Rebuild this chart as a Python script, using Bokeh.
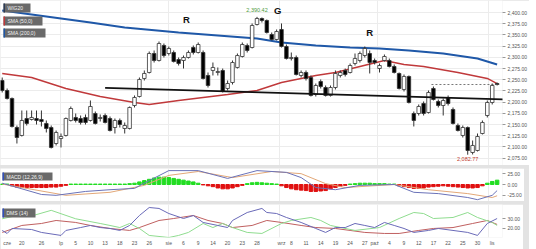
import numpy as np
from bokeh.plotting import figure
from bokeh.layouts import column
from bokeh.models import (Range1d, FixedTicker, NumeralTickFormatter, Label,
                          BoxAnnotation, ColumnDataSource)
from bokeh.embed import file_html
from bokeh.resources import INLINE

# ---------------- data ----------------
opens = [2248.4, 2226.1, 2208.3, 2143.5, 2125.7, 2163.6, 2161.4, 2163.6, 2161.4, 2152.5,
         2143.5, 2107.8, 2119.0, 2125.7, 2159.2, 2165.9, 2163.6, 2165.9, 2159.2, 2174.8,
         2163.6, 2170.3, 2163.6, 2143.5, 2159.2, 2141.3, 2141.3, 2192.6, 2212.7, 2252.9,
         2266.3, 2308.7, 2293.1, 2326.6, 2308.7, 2310.9, 2295.3, 2293.1, 2299.8, 2322.1,
         2310.9, 2310.9, 2259.6, 2270.8, 2266.3, 2270.8, 2230.6, 2244.0, 2277.5, 2302.0,
         2326.6, 2322.1, 2373.4, 2386.8, 2382.4, 2351.1, 2340.0, 2362.3, 2324.3, 2297.5,
         2299.8, 2259.6, 2266.3, 2255.1, 2217.2, 2246.2, 2232.8, 2215.0, 2232.8, 2259.6,
         2270.8, 2266.3, 2286.4, 2293.1, 2304.2, 2308.7, 2293.1, 2275.2, 2293.1, 2293.1,
         2279.7, 2264.1, 2228.4, 2257.4, 2174.8, 2174.8, 2197.1, 2177.0, 2230.6, 2201.6,
         2192.6, 2210.5, 2183.7, 2148.0, 2125.7, 2143.5, 2087.7, 2092.2, 2130.1, 2170.3,
         2199.3, 2241.7]
highs = [2255.1, 2230.6, 2210.5, 2148.0, 2181.5, 2181.5, 2181.5, 2181.5, 2181.5, 2159.2,
         2148.0, 2136.8, 2130.1, 2165.9, 2190.4, 2174.8, 2170.3, 2172.6, 2203.8, 2179.2,
         2172.6, 2174.8, 2168.1, 2163.6, 2163.6, 2154.7, 2190.4, 2215.0, 2255.1, 2270.8,
         2313.2, 2315.4, 2335.5, 2331.0, 2324.3, 2315.4, 2299.8, 2304.2, 2315.4, 2326.6,
         2333.3, 2315.4, 2266.3, 2288.6, 2277.5, 2275.2, 2248.4, 2293.1, 2308.7, 2333.3,
         2331.0, 2375.7, 2390.42, 2389.1, 2384.6, 2355.6, 2362.3, 2375.7, 2328.8, 2310.9,
         2304.2, 2270.8, 2270.8, 2259.6, 2241.7, 2250.7, 2237.3, 2237.3, 2270.8, 2270.8,
         2275.2, 2286.4, 2308.7, 2313.2, 2324.3, 2315.4, 2297.5, 2286.4, 2306.5, 2297.5,
         2284.2, 2266.3, 2261.8, 2259.6, 2179.2, 2194.9, 2201.6, 2226.1, 2235.0, 2206.0,
         2208.3, 2215.0, 2188.2, 2152.5, 2148.0, 2145.8, 2114.5, 2130.1, 2159.2, 2203.8,
         2241.7, 2244.0]
lows = [2221.7, 2206.0, 2143.5, 2107.8, 2123.4, 2148.0, 2159.2, 2150.2, 2145.8, 2132.4,
        2096.7, 2103.4, 2098.9, 2123.4, 2156.9, 2154.7, 2150.2, 2150.2, 2156.9, 2150.2,
        2156.9, 2152.5, 2134.6, 2130.1, 2143.5, 2130.1, 2139.1, 2188.2, 2210.5, 2248.4,
        2264.1, 2288.6, 2290.8, 2299.8, 2304.2, 2288.6, 2281.9, 2275.2, 2297.5, 2306.5,
        2308.7, 2250.7, 2232.8, 2259.6, 2259.6, 2221.7, 2226.1, 2239.5, 2275.2, 2299.8,
        2310.9, 2319.9, 2371.2, 2377.9, 2353.3, 2337.7, 2337.7, 2322.1, 2295.3, 2293.1,
        2259.6, 2255.1, 2248.4, 2212.7, 2212.7, 2230.6, 2212.7, 2212.7, 2228.4, 2255.1,
        2257.4, 2264.1, 2281.9, 2288.6, 2299.8, 2264.1, 2284.2, 2266.3, 2290.8, 2277.5,
        2264.1, 2228.4, 2223.9, 2197.1, 2145.8, 2170.3, 2170.3, 2174.8, 2203.8, 2188.2,
        2170.3, 2192.6, 2150.2, 2134.6, 2121.2, 2082.77, 2083.3, 2090.0, 2127.9, 2165.9,
        2194.9, 2237.3]
closes = [2226.1, 2208.3, 2145.8, 2121.2, 2159.2, 2152.5, 2165.9, 2159.2, 2156.9, 2141.3,
          2098.9, 2132.4, 2123.4, 2163.6, 2185.9, 2159.2, 2154.7, 2154.7, 2190.4, 2152.5,
          2165.9, 2154.7, 2136.8, 2159.2, 2150.2, 2148.0, 2188.2, 2210.5, 2250.7, 2264.1,
          2308.7, 2293.1, 2331.0, 2304.2, 2319.9, 2290.8, 2286.4, 2299.8, 2310.9, 2310.9,
          2328.8, 2252.9, 2237.3, 2277.5, 2268.5, 2223.9, 2241.7, 2288.6, 2304.2, 2328.8,
          2315.4, 2371.2, 2386.8, 2382.4, 2355.6, 2340.0, 2357.8, 2324.3, 2297.5, 2299.8,
          2261.8, 2266.3, 2252.9, 2215.0, 2237.3, 2235.0, 2215.0, 2232.8, 2264.1, 2266.3,
          2261.8, 2281.9, 2297.5, 2308.7, 2319.9, 2288.6, 2288.6, 2281.9, 2302.0, 2279.7,
          2266.3, 2230.6, 2257.4, 2199.3, 2159.2, 2190.4, 2174.8, 2221.7, 2206.0, 2192.6,
          2203.8, 2197.1, 2152.5, 2136.8, 2143.5, 2092.2, 2103.4, 2123.4, 2154.7, 2199.3,
          2237.3, 2239.5]

sma50_idx = [0, 6, 13, 20, 27, 30, 36, 46, 52, 57, 64, 68, 73, 78, 82, 86, 93, 99, 101]
sma50_val = [2264.1, 2255.1, 2230.6, 2212.7, 2199.3, 2194.9, 2203.8, 2217.2, 2226.1, 2244.0,
             2259.6, 2266.3, 2279.7, 2293.1, 2284.2, 2279.7, 2266.3, 2252.9, 2241.7]
sma200_idx = [0, 12, 18, 25, 36, 52, 57, 64, 71, 77, 83, 90, 97, 101]
sma200_val = [2404.7, 2386.8, 2377.9, 2366.7, 2355.6, 2342.2, 2333.3, 2326.6, 2322.1,
              2319.9, 2315.4, 2308.7, 2297.5, 2284.0]
neck_idx = [21, 102.5]
neck_val = [2232.1, 2206.0]

macd_hist = [1, 1, -3, -6, -7, -7, -7, -7, -7, -7,
             -6, -6, -4, -2, 1, 1, 1, 1, 1, 1,
             1, 1, 1, 1, 1, 1, 2, 3, 6, 9,
             12, 15, 17, 17, 16, 14, 12, 10, 8, 6,
             3, -1, -3, -5, -8, -10, -10, -8, -5, -2,
             2, 4, 5, 4, 3, 2, 1, -3, -7, -10,
             -12, -13, -14, -16, -16, -15, -14, -10, -7, -4,
             -2, 1, 2, 3, 3, 3, 2, 2, 2, 1,
             1, -3, -5, -7, -9, -9, -8, -6, -5, -4,
             -3, -4, -5, -6, -7, -8, -8, -7, -3, 3,
             7, 10]
macd_idx = [0, 8, 11, 17, 22, 27, 30, 34, 40, 46, 52, 58, 61, 64, 68, 73, 80, 84, 89, 95, 97, 100, 101]
macd_val = [3, -23, -25, -16, -12, -9, 9, 32, 32, 14, 32, 28, 16, -7, -12, -2, 0, -18, -21, -30, -35, -25, -14]
signal_idx = [0, 13, 22, 29, 34, 40, 47, 55, 61, 66, 70, 80, 87, 95, 100, 101]
signal_val = [1, -25, -18, -2, 21, 30, 16, 30, 25, 2, -7, 0, -12, -21, -30, -26]

dms_blue_idx = [0, 1, 2, 6, 8, 12, 13, 16, 18, 20, 22, 24, 26, 28, 30, 32, 34, 37, 39, 41, 44, 46,
                47, 50, 53, 54, 56, 58, 61, 64, 66, 68, 70, 72, 74, 76, 78, 80, 82, 84, 87, 89,
                92, 95, 97, 99, 101]
dms_blue_val = [17.6, 14.4, 19.7, 18.6, 15.5, 12.3, 17.6, 20.7, 22.9, 20.7, 19.7, 17.6, 22.9, 33.5,
                42.0, 41.0, 35.6, 30.3, 33.5, 26.1, 22.9, 20.7, 28.2, 36.7, 41.0, 36.7, 35.6, 31.4,
                26.1, 19.7, 15.5, 20.7, 20.7, 25.0, 22.9, 20.7, 26.1, 22.9, 19.7, 15.5, 17.6, 19.7,
                17.6, 15.5, 12.3, 25.0, 30.3]
dms_green_idx = [0, 3, 6, 10, 15, 20, 22, 24, 26, 28, 30, 34, 36, 38, 41, 43, 45, 47, 50, 53, 57,
                 59, 63, 65, 67, 72, 77, 81, 84, 86, 88, 92, 95, 97, 100, 101]
dms_green_val = [30.0, 33.5, 33.0, 39.0, 30.0, 25.0, 22.9, 20.7, 25.0, 19.7, 12.3, 10.1, 12.3, 15.5,
                 25.0, 20.7, 25.0, 20.7, 15.5, 14.4, 25.0, 28.2, 31.4, 28.2, 22.9, 17.6, 20.7, 30.3,
                 36.7, 35.6, 30.3, 31.4, 36.7, 31.4, 26.1, 22.9]
dms_red_idx = [0, 4, 8, 11, 15, 18, 22, 26, 28, 32, 35, 39, 42, 45, 47, 51, 54, 57, 61, 64, 68, 71,
               74, 78, 81, 85, 88, 92, 96, 99, 101]
dms_red_val = [15.5, 22.9, 25.0, 28.2, 26.1, 22.9, 19.7, 17.6, 20.7, 28.2, 30.3, 33.5, 28.2, 25.0,
               20.7, 22.9, 28.2, 26.1, 22.9, 20.7, 19.7, 17.6, 15.5, 14.4, 14.4, 17.6, 19.7, 20.7,
               25.0, 28.2, 24.0]

tick_pos = [1, 4, 8, 12, 15, 18, 21, 24, 27, 30, 34, 37, 40, 43, 46, 49, 52, 57, 59, 62, 65,
            68, 71, 74, 76, 79, 82, 85, 88, 91, 94, 97, 100]
tick_labels = ["cze", "20", "26", "lp", "5", "10", "13", "18", "23", "26", "sie", "6", "9", "14",
               "20", "23", "28", "wrz", "8", "11", "14", "19", "24", "27", "paź", "4", "9", "12",
               "17", "22", "25", "30", "lis"]
month_pos = [11.9, 33.9, 56.6, 76.6, 99.3]
price_ticks = [2075, 2100, 2125, 2150, 2175, 2200, 2225, 2250, 2275, 2300, 2325, 2350, 2375, 2400]

# ---------------- styling ----------------
FONT = "Liberation Sans"
GRID = "#ececec"
TXT = "#555555"
FW = 502

xr = Range1d(-0.35, 102.1)


def make_fig(frame_h, yr, xloc=None):
    p = figure(frame_width=FW, frame_height=frame_h, x_range=xr, y_range=yr,
               output_backend="svg", toolbar_location=None, tools="",
               x_axis_location=xloc, y_axis_location="right",
               min_border_left=0, min_border_right=0, min_border_top=0, min_border_bottom=0)
    p.outline_line_color = None
    p.background_fill_color = "white"
    p.border_fill_color = "white"
    p.xgrid.ticker = FixedTicker(ticks=month_pos)
    p.xgrid.grid_line_color = GRID
    p.ygrid.grid_line_color = None
    return p


def style_yaxis(ax, ticks, fmt):
    ax.ticker = FixedTicker(ticks=ticks)
    ax.formatter = NumeralTickFormatter(format=fmt)
    ax.axis_line_color = None
    ax.major_tick_line_color = "#999999"
    ax.major_tick_out = 3
    ax.major_tick_in = 0
    ax.minor_tick_line_color = None
    ax.major_label_text_font = FONT
    ax.major_label_text_font_size = "5px"
    ax.major_label_text_color = TXT
    ax.major_label_standoff = 2


def tag(p, frame_h, text, x0, ytop, w, h, stripe):
    kw = dict(left_units="screen", right_units="screen", top_units="screen",
              bottom_units="screen", line_color=None, fill_alpha=1.0, level="overlay")
    p.add_layout(BoxAnnotation(left=x0, right=x0 + w, top=frame_h - ytop,
                               bottom=frame_h - ytop - h, fill_color="#6a6a6a", **kw))
    p.add_layout(BoxAnnotation(left=x0, right=x0 + 1.5, top=frame_h - ytop,
                               bottom=frame_h - ytop - h, fill_color=stripe, **kw))
    p.add_layout(Label(x=x0 + 4, y=frame_h - ytop - h / 2.0, x_units="screen", y_units="screen",
                       text=text, text_font=FONT, text_font_size="5px", text_color="#f2f2f2",
                       text_baseline="middle", level="overlay"))


# ---------------- main price panel ----------------
MH = 165
main = make_fig(MH, Range1d(2058.7, 2427.0))
main.ygrid.grid_line_color = GRID
main.ygrid.ticker = FixedTicker(ticks=price_ticks)
style_yaxis(main.yaxis[0], price_ticks, "0,0.00")

n = len(closes)
idx = list(range(n))
src = ColumnDataSource(dict(
    x=idx, h=highs, l=lows,
    top=[max(o, c) for o, c in zip(opens, closes)],
    bot=[min(o, c) for o, c in zip(opens, closes)],
    fill=["#000000" if c < o else "#ffffff" for o, c in zip(opens, closes)],
))
main.line(sma200_idx, sma200_val, line_color="#1f58a8", line_width=2)
main.line(sma50_idx, sma50_val, line_color="#c0393b", line_width=1.4)
main.segment(x0="x", y0="l", x1="x", y1="h", source=src, line_color="#333333", line_width=1)
main.vbar(x="x", top="top", bottom="bot", width=0.72, fill_color="fill",
          line_color="#333333", line_width=0.8, source=src)
main.line(neck_idx, neck_val, line_color="#111111", line_width=1.8)
main.line([87.6, n - 0.5], [closes[-1], closes[-1]], line_color="#555555",
          line_width=0.8, line_dash="2 2")

imax = int(np.argmax(highs))
imin = int(np.argmin(lows))
main.add_layout(Label(x=imax, y=highs[imax], text=f"{highs[imax]:,.2f}", text_align="center",
                      text_baseline="bottom", y_offset=5, text_font=FONT,
                      text_font_size="5.5px", text_color="#4c9a3c"))
main.add_layout(Label(x=imin, y=lows[imin], text=f"{lows[imin]:,.2f}", text_align="center",
                      text_baseline="top", y_offset=-2, text_font=FONT,
                      text_font_size="5.5px", text_color="#c0392b"))
for tx, ix, pv in [("R", 37.6, 2384.6), ("G", 56.2, 2405.0), ("R", 75.0, 2355.6)]:
    main.add_layout(Label(x=ix, y=pv, text=tx, text_align="center", text_baseline="middle",
                          text_font=FONT, text_font_style="bold", text_font_size="9.5px",
                          text_color="#111111"))

tag(main, MH, "WIG20", 3, 3, 27, 9, "#2b3a55")
tag(main, MH, "SMA (50,0)", 3, 16, 39, 9, "#c0393b")
tag(main, MH, "SMA (200,0)", 3, 28, 42, 9, "#1f58a8")

# ---------------- MACD panel ----------------
PH = 33
macd = make_fig(PH, Range1d(-39.2, 36.9))
style_yaxis(macd.yaxis[0], [-25, 0, 25], "0,0.00")
macd.vbar(x=idx, top=macd_hist, bottom=0, width=0.72,
          color=["#22dd22" if v >= 0 else "#e01010" for v in macd_hist])
macd.line(signal_idx, signal_val, line_color="#e3a878", line_width=1)
macd.line(macd_idx, macd_val, line_color="#6a72b8", line_width=1)
tag(macd, PH, "MACD (12,26,9)", 2, 4, 50, 8, "#3050c0")

# ---------------- DMS panel ----------------
dms = make_fig(PH, Range1d(10.1, 45.2), xloc="below")
dms.min_border_bottom = 12
style_yaxis(dms.yaxis[0], [20, 30], "0,0.00")
dms.line(dms_red_idx, dms_red_val, line_color="#c06060", line_width=1)
dms.line(dms_green_idx, dms_green_val, line_color="#8fdc8f", line_width=1)
dms.line(dms_blue_idx, dms_blue_val, line_color="#6a6ab8", line_width=1)
xa = dms.xaxis[0]
xa.ticker = FixedTicker(ticks=tick_pos)
xa.major_label_overrides = {k: v for k, v in zip(tick_pos, tick_labels)}
xa.axis_line_color = None
xa.major_tick_line_color = None
xa.major_tick_out = 0
xa.major_tick_in = 0
xa.minor_tick_line_color = None
xa.minor_tick_out = 0
xa.major_label_text_font = FONT
xa.major_label_text_font_size = "5px"
xa.major_label_text_color = TXT
xa.major_label_standoff = 2
tag(dms, PH, "DMS (14)", 2, 4, 33, 9, "#3050c0")

layout = column(main, macd, dms, spacing=3, styles={"background-color": "#e3e3e3"})
open("out.html", "w").write(file_html(layout, INLINE))
